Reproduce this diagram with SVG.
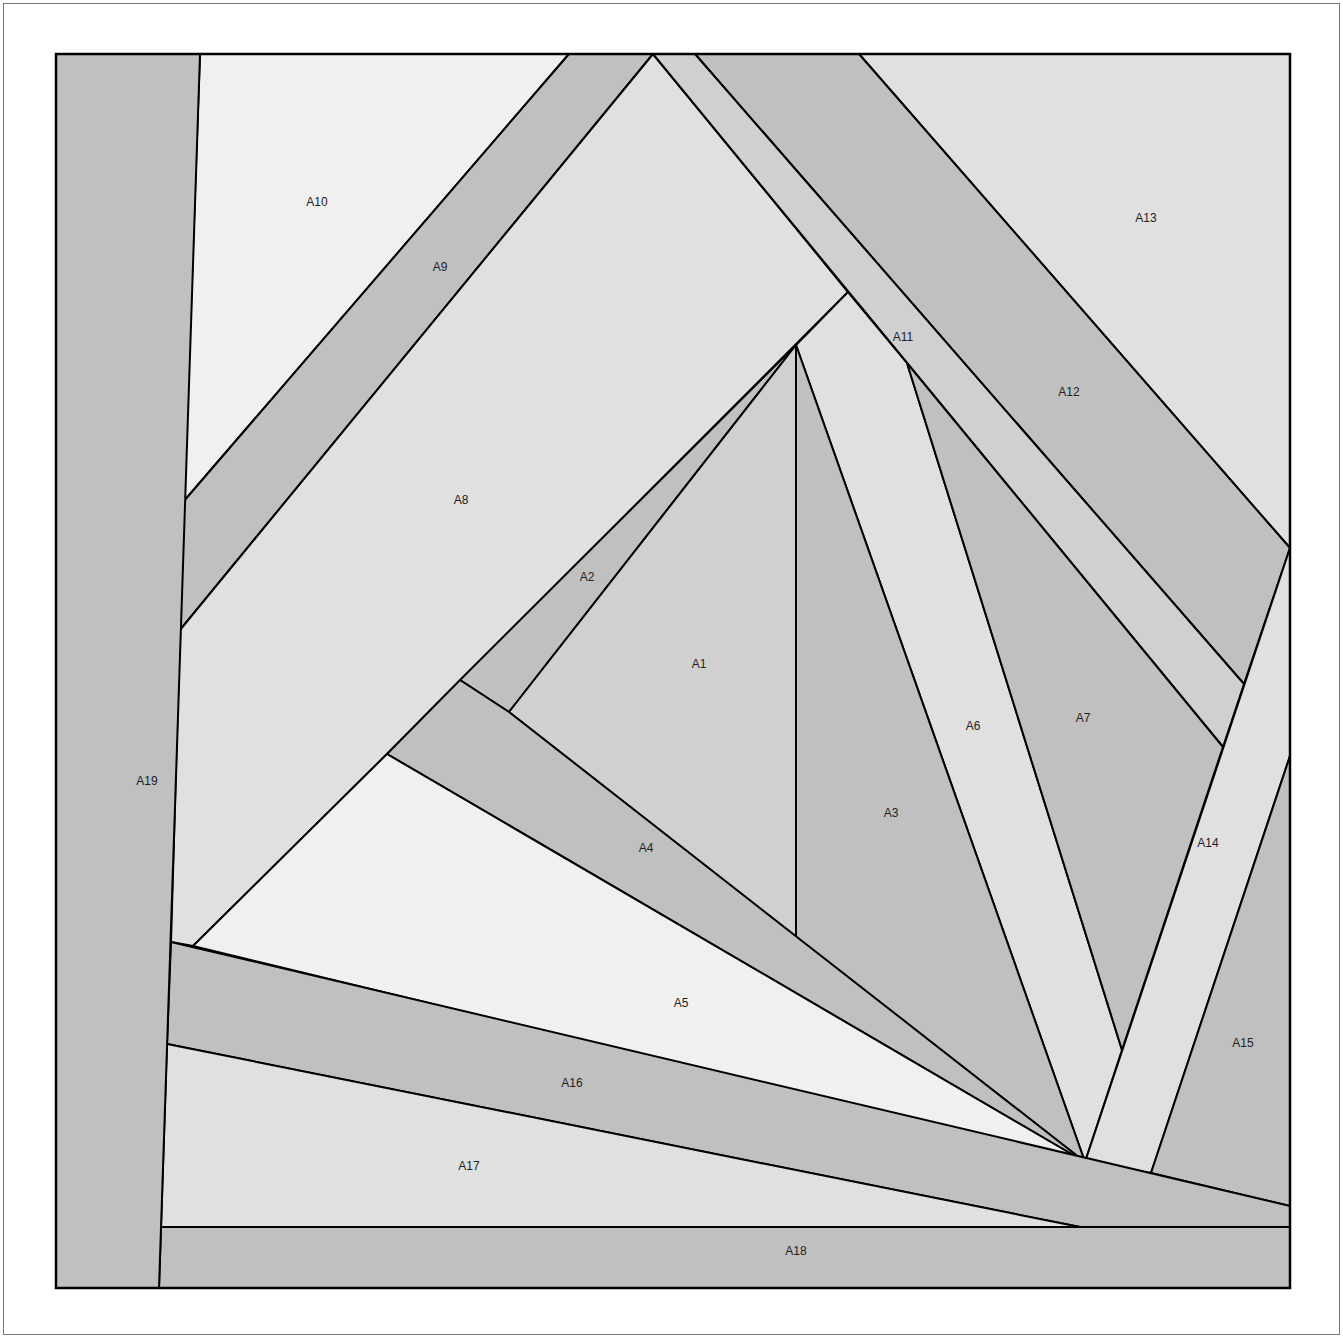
<svg xmlns="http://www.w3.org/2000/svg" width="1343" height="1338" viewBox="0 0 1343 1338">
<style>
.p{stroke:#000;stroke-width:2;stroke-linejoin:round}
.a{fill:#c0c0c0}.b{fill:#d0d0d0}.c{fill:#e0e0e0}.d{fill:#f0f0f0}
text{font-family:"Liberation Sans",Arial,sans-serif;font-size:12px;fill:#222;text-anchor:middle;dominant-baseline:central}
</style>
<rect x="0" y="0" width="1343" height="1338" fill="#fff"/>
<rect x="3.5" y="3.5" width="1336" height="1331" fill="none" stroke="#777" stroke-width="1"/>
<g id="A10"><polygon class="p d" points="200,54 569,54 184,501"/><text x="317" y="202">A10</text></g>
<g id="A9"><polygon class="p a" points="569,54 653,54 180,630 184,501"/><text x="440" y="267">A9</text></g>
<g id="A8"><polygon class="p c" points="653,54 848,292 387,754 193,946 171,942 180,630"/><text x="461" y="500">A8</text></g>
<g id="A13"><polygon class="p c" points="859,54 1290,54 1290,548"/><text x="1146" y="218">A13</text></g>
<g id="A12"><polygon class="p a" points="695,54 859,54 1290,548 1244,684"/><text x="1069" y="392">A12</text></g>
<g id="A11"><polygon class="p b" points="653,54 695,54 1244,684 1223,747"/><text x="903" y="337">A11</text></g>
<g id="A6"><polygon class="p c" points="848,292 907,363 1122,1050 1085,1162 796,345"/><text x="973" y="726">A6</text></g>
<g id="A7"><polygon class="p a" points="907,363 1223,747 1122,1050"/><text x="1083" y="718">A7</text></g>
<g id="A14"><polygon class="p c" points="1290,548 1290,756 1151,1173 1085,1162"/><text x="1208" y="843">A14</text></g>
<g id="A15"><polygon class="p a" points="1290,756 1290,1206 1151,1173"/><text x="1243" y="1043">A15</text></g>
<g id="A2"><polygon class="p a" points="796,345 460,680 509,712"/><text x="587" y="577">A2</text></g>
<g id="A1"><polygon class="p b" points="796,345 509,712 796,937"/><text x="699" y="664">A1</text></g>
<g id="A3"><polygon class="p a" points="796,345 796,937 1085,1162"/><text x="891" y="813">A3</text></g>
<g id="A4"><polygon class="p a" points="387,754 460,680 509,712 1085,1162"/><text x="646" y="848">A4</text></g>
<g id="A5"><polygon class="p d" points="193,946 387,754 1085,1162"/><text x="681" y="1003">A5</text></g>
<g id="A16"><polygon class="p a" points="171,942 1290,1206 1290,1227 1080,1227 167,1044"/><text x="572" y="1083">A16</text></g>
<g id="A17"><polygon class="p c" points="167,1044 1080,1227 161,1227"/><text x="469" y="1166">A17</text></g>
<g id="A18"><polygon class="p a" points="161,1227 1290,1227 1290,1288 159,1288"/><text x="796" y="1251">A18</text></g>
<g id="A19"><polygon class="p a" points="56,54 200,54 159,1288 56,1288"/><text x="147" y="781">A19</text></g>
<rect x="56" y="54" width="1234" height="1234" fill="none" stroke="#000" stroke-width="2.5"/>
</svg>
